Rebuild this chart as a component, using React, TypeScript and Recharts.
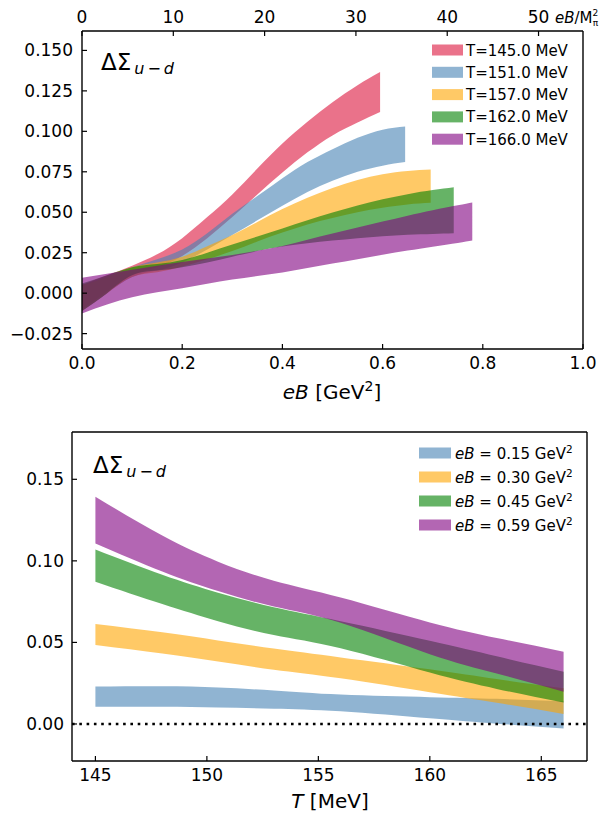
import React from 'react';
import { ComposedChart, Area, Line, XAxis, YAxis, ReferenceLine } from 'recharts';

const FONT = '"DejaVu Sans", sans-serif';

// ---------- top panel: ΔΣ vs eB at fixed T ----------
const TEMPS = ['T=145.0 MeV', 'T=151.0 MeV', 'T=157.0 MeV', 'T=162.0 MeV', 'T=166.0 MeV'];
const TOP_COLORS = ['#DC143C', '#4682B4', '#FFA500', '#008000', '#800080'];

const EB_145 = [0, 0.05, 0.1, 0.15, 0.2, 0.25, 0.3, 0.35, 0.4, 0.45, 0.5, 0.55, 0.595];
const LO_145 = [-0.010, 0.001, 0.011, 0.016, 0.023, 0.034, 0.047, 0.061, 0.0745, 0.087, 0.0975, 0.1055, 0.112];
const HI_145 = [0.005, 0.011, 0.017, 0.024, 0.034, 0.047, 0.061, 0.077, 0.0925, 0.106, 0.118, 0.1285, 0.1366];

const EB_151 = [0, 0.05, 0.1, 0.15, 0.2, 0.25, 0.3, 0.35, 0.4, 0.45, 0.5, 0.55, 0.6, 0.645];
const LO_151 = [-0.011, 0.000, 0.010, 0.014, 0.019, 0.027, 0.036, 0.045, 0.054, 0.0625, 0.0695, 0.075, 0.0788, 0.081];
const HI_151 = [0.005, 0.010, 0.016, 0.021, 0.027, 0.037, 0.049, 0.060, 0.071, 0.081, 0.089, 0.0960, 0.1010, 0.103];

const EB_157 = [0, 0.05, 0.1, 0.15, 0.2, 0.25, 0.3, 0.35, 0.4, 0.45, 0.5, 0.55, 0.6, 0.65, 0.696];
const LO_157 = [-0.011, 0.000, 0.010, 0.013, 0.0165, 0.021, 0.026, 0.032, 0.0375, 0.0425, 0.0465, 0.050, 0.0528, 0.0548, 0.0558];
const HI_157 = [0.005, 0.010, 0.016, 0.019, 0.0225, 0.029, 0.036, 0.044, 0.052, 0.059, 0.065, 0.0700, 0.0735, 0.0755, 0.0764];

const EB_162 = [0, 0.05, 0.1, 0.15, 0.2, 0.25, 0.3, 0.35, 0.4, 0.45, 0.5, 0.55, 0.6, 0.65, 0.7, 0.742];
const LO_162 = [-0.011, 0.000, 0.011, 0.014, 0.016, 0.019, 0.0225, 0.026, 0.0288, 0.0308, 0.0325, 0.0340, 0.0352, 0.0361, 0.0366, 0.037];
const HI_162 = [0.006, 0.011, 0.016, 0.018, 0.0205, 0.025, 0.030, 0.035, 0.040, 0.045, 0.0498, 0.0542, 0.0580, 0.0612, 0.0637, 0.0655];

const EB_166 = [0, 0.05, 0.1, 0.15, 0.2, 0.25, 0.3, 0.35, 0.4, 0.45, 0.5, 0.55, 0.6, 0.65, 0.7, 0.75, 0.779];
const LO_166 = [-0.0125, -0.007, -0.0025, 0.0005, 0.003, 0.0058, 0.0084, 0.0106, 0.0128, 0.0155, 0.0183, 0.021, 0.0237, 0.0263, 0.0287, 0.031, 0.0325];
const HI_166 = [0.0095, 0.012, 0.0145, 0.017, 0.0193, 0.0214, 0.0236, 0.0262, 0.0292, 0.033, 0.0368, 0.0406, 0.0443, 0.0479, 0.0513, 0.0543, 0.056];

const TOP_X_DOMAIN = [0, 1];
const TOP_Y_DOMAIN = [-0.0345, 0.162];
const TOP_X_TICKS = [0, 0.2, 0.4, 0.6, 0.8, 1.0];
const TOP_Y_TICKS = [-0.025, 0, 0.025, 0.05, 0.075, 0.1, 0.125, 0.15];
const MPI_TICKS = [0, 10, 20, 30, 40, 50];
const M_PI_SQ = 0.018225; // GeV^2

// ---------- bottom panel: ΔΣ vs T at fixed eB ----------
const FIELDS = ['0.15', '0.30', '0.45', '0.59'];
const BOT_COLORS = ['#4682B4', '#FFA500', '#008000', '#800080'];
const T_VALS = [145, 148, 150.5, 153, 156, 160, 163, 166];
const LO_015 = [0.0106, 0.0105, 0.0101, 0.0094, 0.0078, 0.0035, 0.0002, -0.0027];
const HI_015 = [0.0229, 0.0231, 0.0224, 0.0205, 0.0180, 0.0164, 0.0154, 0.0140];
const LO_030 = [0.0484, 0.0432, 0.0383, 0.0333, 0.0280, 0.0195, 0.0130, 0.0061];
const HI_030 = [0.0613, 0.0562, 0.0512, 0.0462, 0.0408, 0.0335, 0.0275, 0.0219];
const LO_045 = [0.0872, 0.0735, 0.0630, 0.0545, 0.0464, 0.0315, 0.0215, 0.0131];
const HI_045 = [0.1070, 0.0915, 0.0805, 0.0715, 0.0630, 0.0510, 0.0415, 0.0320];
const LO_059 = [0.1107, 0.0935, 0.0815, 0.0720, 0.0620, 0.0428, 0.0310, 0.0198];
const HI_059 = [0.1393, 0.1155, 0.0995, 0.0878, 0.0775, 0.0622, 0.0527, 0.0443];

const BOT_X_DOMAIN = [143.95, 167.05];
const BOT_Y_DOMAIN = [-0.0227, 0.179];
const BOT_X_TICKS = [145, 150, 155, 160, 165];
const BOT_Y_TICKS = [0, 0.05, 0.1, 0.15];

type Row = { x: number; band: [number, number] };
const rows = (xs: number[], lo: number[], hi: number[]): Row[] =>
  xs.map((x, i) => ({ x, band: [lo[i], hi[i]] }));

const TOP_SERIES = [
  rows(EB_145, LO_145, HI_145),
  rows(EB_151, LO_151, HI_151),
  rows(EB_157, LO_157, HI_157),
  rows(EB_162, LO_162, HI_162),
  rows(EB_166, LO_166, HI_166),
];
const BOT_SERIES = [
  rows(T_VALS, LO_015, HI_015),
  rows(T_VALS, LO_030, HI_030),
  rows(T_VALS, LO_045, HI_045),
  rows(T_VALS, LO_059, HI_059),
];
// helper rows so the secondary (eB / M_pi^2) axis is attached to a series
const MPI_ROWS = MPI_TICKS.map((t) => ({ m: t, none: null }));

const fmt = (d: number) => (v: number) => (v < 0 ? '\u2212' + Math.abs(v).toFixed(d) : v.toFixed(d));
const tickStyle = { fill: '#000', fontSize: 17, fontFamily: FONT };
const AX = { stroke: '#000', strokeWidth: 1.4 };
const TL = { stroke: '#000', strokeWidth: 1.2 };

function TopChart() {
  return (
    <ComposedChart width={602} height={400} margin={{ top: 0, right: 19, bottom: 0, left: 0 }}>
      <XAxis
        dataKey="x" type="number" domain={TOP_X_DOMAIN} ticks={TOP_X_TICKS} allowDataOverflow
        tickFormatter={fmt(1)} height={51} tickSize={-5} tickMargin={13}
        tick={tickStyle} axisLine={AX} tickLine={TL}
      />
      <XAxis
        xAxisId="mpi" dataKey="m" orientation="top" type="number" domain={[0, 1 / M_PI_SQ]} ticks={MPI_TICKS}
        allowDataOverflow height={31} tickSize={-5} tickMargin={13}
        tick={tickStyle} axisLine={AX} tickLine={TL}
      />
      <YAxis
        type="number" domain={TOP_Y_DOMAIN} ticks={TOP_Y_TICKS} allowDataOverflow
        tickFormatter={fmt(3)} width={82} tickSize={-5} tickMargin={14}
        tick={tickStyle} axisLine={AX} tickLine={TL}
      />
      {TOP_SERIES.map((d, i) => (
        <Area
          key={TEMPS[i]} name={TEMPS[i]} data={d} dataKey="band" type="natural"
          stroke="none" fill={TOP_COLORS[i]} fillOpacity={0.6}
          isAnimationActive={false} dot={false} activeDot={false}
        />
      ))}
      <Line
        xAxisId="mpi" data={MPI_ROWS} dataKey="none" stroke="none" dot={false} activeDot={false}
        isAnimationActive={false} legendType="none"
      />
      <ReferenceLine x={TOP_X_DOMAIN[1]} stroke="#000" strokeWidth={1.4} />
    </ComposedChart>
  );
}

function BottomChart() {
  return (
    <ComposedChart width={602} height={406} margin={{ top: 22, right: 15, bottom: 0, left: 0 }}>
      <XAxis
        dataKey="x" type="number" domain={BOT_X_DOMAIN} ticks={BOT_X_TICKS} allowDataOverflow
        height={55} tickSize={-5} tickMargin={13}
        tick={tickStyle} axisLine={AX} tickLine={TL}
      />
      <YAxis
        type="number" domain={BOT_Y_DOMAIN} ticks={BOT_Y_TICKS} allowDataOverflow
        tickFormatter={fmt(2)} width={72} tickSize={-5} tickMargin={13}
        tick={tickStyle} axisLine={AX} tickLine={TL}
      />
      {BOT_SERIES.map((d, i) => (
        <Area
          key={FIELDS[i]} name={FIELDS[i]} data={d} dataKey="band" type="natural"
          stroke="none" fill={BOT_COLORS[i]} fillOpacity={0.6}
          isAnimationActive={false} dot={false} activeDot={false}
        />
      ))}
      <ReferenceLine y={0} stroke="#000" strokeWidth={2.6} strokeDasharray="2.6 4.7" />
      <ReferenceLine x={BOT_X_DOMAIN[1]} stroke="#000" strokeWidth={1.4} />
      <ReferenceLine y={BOT_Y_DOMAIN[1]} stroke="#000" strokeWidth={1.4} />
    </ComposedChart>
  );
}

function Overlay() {
  const topRows = [50, 72.3, 94.6, 116.9, 139.2];
  const botRows = [453, 477, 501, 525];
  return (
    <svg width={602} height={816} style={{ position: 'absolute', left: 0, top: 0, pointerEvents: 'none' }}
      fontFamily={FONT}>
      {/* top panel label */}
      <text x={101} y={70} fontSize={23} fill="#000">ΔΣ
        <tspan fontSize={16} fontStyle="italic" dx={3} dy={4}>u</tspan>
        <tspan fontSize={16} dx={3}>−</tspan>
        <tspan fontSize={16} fontStyle="italic" dx={3}>d</tspan>
      </text>
      {/* bottom panel label */}
      <text x={93} y={473} fontSize={23} fill="#000">ΔΣ
        <tspan fontSize={16} fontStyle="italic" dx={3} dy={4}>u</tspan>
        <tspan fontSize={16} dx={3}>−</tspan>
        <tspan fontSize={16} fontStyle="italic" dx={3}>d</tspan>
      </text>
      {/* top secondary axis label */}
      <text x={555} y={23} fontSize={15} fill="#000">
        <tspan fontStyle="italic">eB</tspan>/M<tspan fontSize={9} dy={-7}>2</tspan>
        <tspan fontSize={9} dx={-5.5} dy={10}>π</tspan>
      </text>
      {/* x-axis labels */}
      <text x={332} y={399} fontSize={20} fill="#000" textAnchor="middle">
        <tspan fontStyle="italic">eB</tspan> [GeV<tspan fontSize={14} dy={-8}>2</tspan><tspan dy={8}>]</tspan>
      </text>
      <text x={330} y={808} fontSize={20} fill="#000" textAnchor="middle">
        <tspan fontStyle="italic">T</tspan> [MeV]
      </text>
      {/* top legend */}
      {TEMPS.map((t, i) => (
        <g key={t}>
          <rect x={432} y={topRows[i] - 5.5} width={31} height={11} fill={TOP_COLORS[i]} fillOpacity={0.6} />
          <text x={466} y={topRows[i] + 5.5} fontSize={15} fill="#000">{t}</text>
        </g>
      ))}
      {/* bottom legend */}
      {FIELDS.map((f, i) => (
        <g key={f}>
          <rect x={419} y={botRows[i] - 5.5} width={32} height={11} fill={BOT_COLORS[i]} fillOpacity={0.6} />
          <text x={455} y={botRows[i] + 5.5} fontSize={15} fill="#000">
            <tspan fontStyle="italic">eB</tspan> = {f} GeV<tspan fontSize={10.5} dy={-6}>2</tspan>
          </text>
        </g>
      ))}
    </svg>
  );
}

export default function App() {
  return (
    <div style={{ position: 'absolute', left: 0, top: 0, width: 602, height: 816, background: '#fff', fontFamily: FONT }}>
      <div style={{ position: 'absolute', left: 0, top: 0 }}>
        <TopChart />
      </div>
      <div style={{ position: 'absolute', left: 0, top: 410 }}>
        <BottomChart />
      </div>
      <Overlay />
    </div>
  );
}
